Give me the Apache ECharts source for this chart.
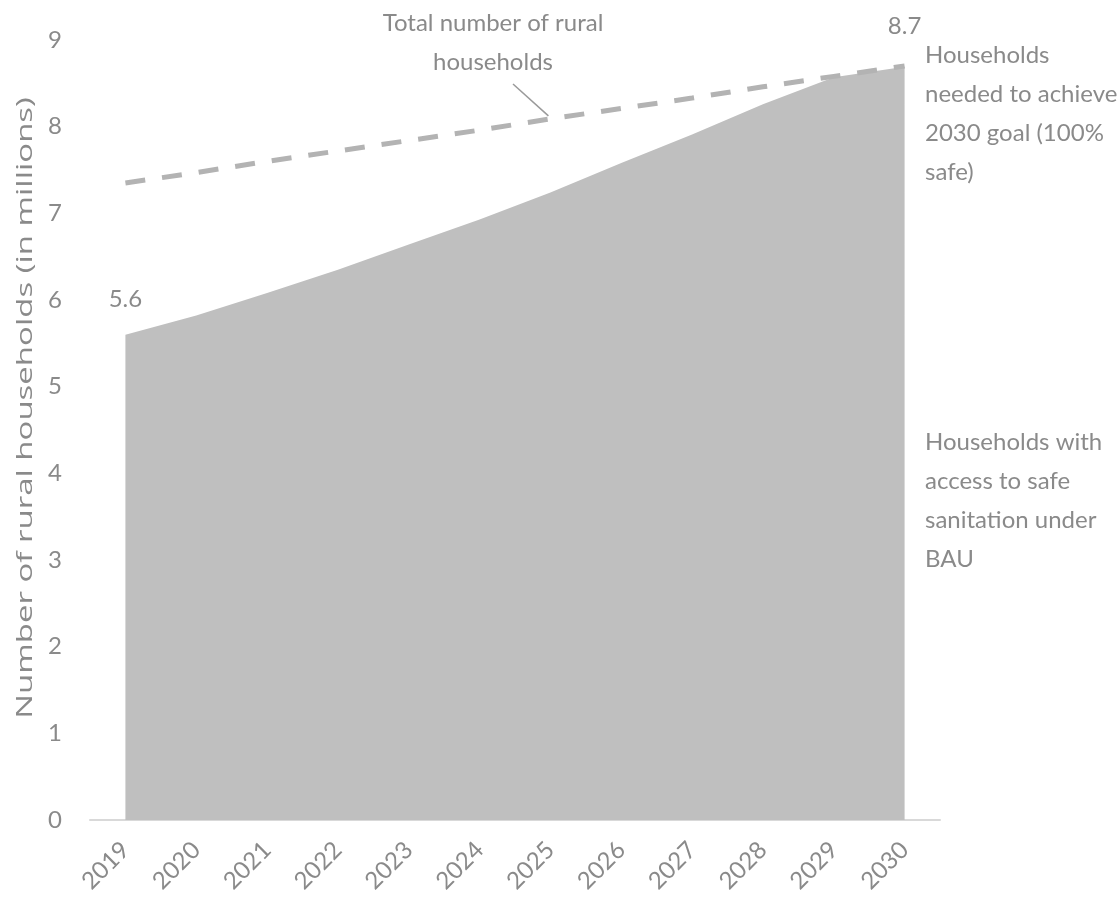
<!DOCTYPE html>
<html>
<head>
<meta charset="utf-8">
<title>Rural households and safe sanitation, 2019–2030</title>
<script src="https://cdn.jsdelivr.net/npm/echarts@6/dist/echarts.min.js"></script>
<style>
  html, body { margin: 0; padding: 0; background: #ffffff; }
  #chart { width: 1120px; height: 908px; }
</style>
</head>
<body>
<div id="chart"></div>
<script>
// Years on the horizontal axis
const years = ['2019', '2020', '2021', '2022', '2023', '2024', '2025', '2026', '2027', '2028', '2029', '2030'];

// Households with access to safe sanitation under business as usual (millions)
const bauHouseholds = [5.6, 5.82, 6.08, 6.35, 6.64, 6.93, 7.24, 7.58, 7.91, 8.26, 8.57, 8.69];

// Total number of rural households (millions)
const totalHouseholds = [7.35, 7.47, 7.60, 7.72, 7.84, 7.96, 8.09, 8.21, 8.33, 8.46, 8.58, 8.7];

// Vertical axis ticks
const yTicks = [0, 1, 2, 3, 4, 5, 6, 7, 8, 9];

const FONT = "Lato, 'Open Sans', sans-serif";
const TEXT_GREY = '#8a8a8a';
const Y_TITLE = 'Number of rural households (in millions)';

const chart = echarts.init(document.getElementById('chart'), null, { renderer: 'canvas' });

const valueLabel = (distance, pick) => ({
  show: true,
  position: 'top',
  distance: distance,
  color: TEXT_GREY,
  fontFamily: FONT,
  fontSize: 24,
  formatter: (p) => (pick(p.dataIndex) ? p.value.toFixed(1) : '')
});

const option = {
  backgroundColor: '#ffffff',
  animation: false,
  grid: { left: 90, right: 180, top: 40, bottom: 88 },
  xAxis: {
    type: 'category',
    data: years,
    boundaryGap: true,
    axisLine: { show: true, lineStyle: { color: '#d9d9d9', width: 2 } },
    axisTick: { show: false },
    axisLabel: {
      rotate: 45,
      margin: 26,
      color: TEXT_GREY,
      fontFamily: FONT,
      fontSize: 24
    }
  },
  yAxis: {
    type: 'value',
    min: yTicks[0],
    max: yTicks[yTicks.length - 1],
    interval: 1,
    axisLine: { show: false },
    axisTick: { show: false },
    splitLine: { show: false },
    axisLabel: {
      margin: 28,
      color: TEXT_GREY,
      fontFamily: FONT,
      fontSize: 24
    }
  },
  series: [
    {
      name: 'Households with access to safe sanitation under BAU',
      type: 'line',
      data: bauHouseholds,
      showSymbol: true,
      symbol: 'circle',
      symbolSize: 1,
      lineStyle: { width: 0 },
      itemStyle: { color: 'rgba(0,0,0,0)' },
      areaStyle: { color: '#bfbfbf', opacity: 1 },
      z: 2,
      label: valueLabel(23, (i) => i === 0)
    },
    {
      name: 'Total number of rural households',
      type: 'line',
      data: totalHouseholds,
      showSymbol: true,
      symbol: 'circle',
      symbolSize: 1,
      itemStyle: { color: 'rgba(0,0,0,0)' },
      lineStyle: { color: '#b3b3b3', width: 5, type: [20, 17], cap: 'butt' },
      z: 3,
      label: valueLabel(27, (i) => i === years.length - 1)
    }
  ]
};

chart.setOption(option);

// Annotations: axis title, right-hand notes and the callout over the dashed line
const calloutIdx = 6;
const calloutPt = chart.convertToPixel({ seriesIndex: 1 }, [calloutIdx, totalHouseholds[calloutIdx]]);
const noteStyle = {
  fill: TEXT_GREY,
  font: "24px " + FONT,
  lineHeight: 39
};

chart.setOption({
  graphic: [
    {
      // vertical axis title, stretched along its length
      type: 'text',
      x: 37,
      y: 408,
      rotation: Math.PI / 2,
      scaleX: 1.57,
      scaleY: 1,
      style: {
        text: Y_TITLE,
        fill: TEXT_GREY,
        font: "21px 'Open Sans', sans-serif",
        align: 'center',
        verticalAlign: 'bottom'
      }
    },
    {
      type: 'text',
      x: 493,
      y: 4,
      style: Object.assign({}, noteStyle, {
        text: 'Total number of rural\nhouseholds',
        align: 'center'
      })
    },
    {
      type: 'line',
      shape: { x1: 513, y1: 84, x2: calloutPt[0] - 2, y2: calloutPt[1] - 3 },
      style: { stroke: '#9a9a9a', lineWidth: 1.5 }
    },
    {
      type: 'text',
      x: 925,
      y: 36,
      style: Object.assign({}, noteStyle, {
        text: 'Households\nneeded to achieve\n2030 goal (100%\nsafe)'
      })
    },
    {
      type: 'text',
      x: 925,
      y: 423,
      style: Object.assign({}, noteStyle, {
        text: 'Households with\naccess to safe\nsanitation under\nBAU'
      })
    }
  ]
});
</script>
</body>
</html>
